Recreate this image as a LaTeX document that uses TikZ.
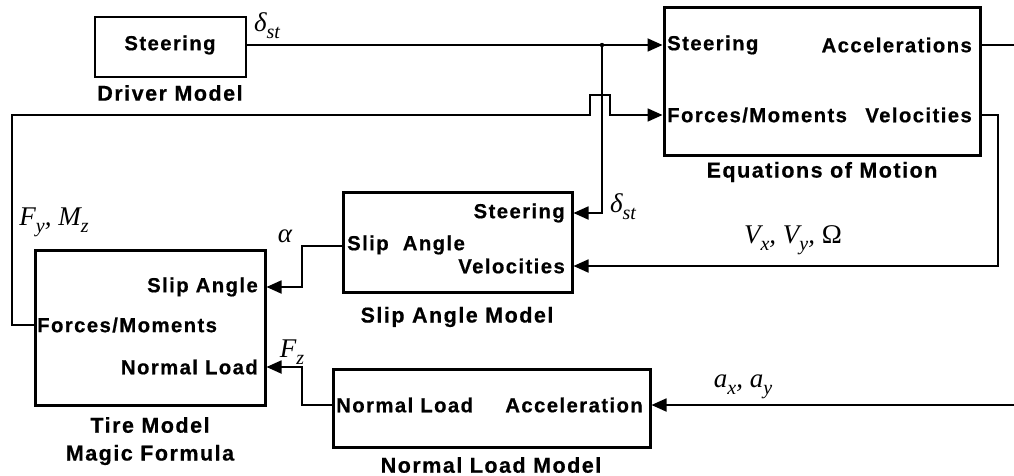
\documentclass[tikz,border=0pt]{standalone}
\usepackage{fontspec}
\usetikzlibrary{arrows.meta}
\newfontfamily\boxfont[LetterSpace=7, FakeBold=0.6]{Liberation Sans Bold}
\newfontfamily\mfont{Liberation Serif}
\newcommand\sbs[1]{\raisebox{-0.25em}{\fontsize{20}{20}\selectfont #1}}
\tikzset{
  blk/.style={draw, line width=3pt, inner sep=0pt},
  thinblk/.style={draw, line width=2pt, inner sep=0pt},
  port/.style={inner sep=0pt, font=\boxfont\fontsize{20.3}{21}\selectfont},
  ttl/.style={inner sep=0pt, font=\boxfont\fontsize{21.5}{22}\selectfont},
  sig/.style={inner sep=0pt, font=\mfont\itshape\fontsize{27}{27}\selectfont},
  wire/.style={line width=1.8pt},
  arr/.style={line width=1.8pt, -{Triangle[length=15pt,width=13pt]}},
}
\begin{document}
\begin{tikzpicture}[x=1pt,y=-1pt]
\useasboundingbox (0,0) rectangle (1014,476);
% boxes
\node[thinblk, minimum width=151pt, minimum height=60pt] (drv) at (170.5,47) {};
\node[blk, minimum width=316pt, minimum height=147pt] (eom) at (822,81.5) {};
\node[blk, minimum width=229pt, minimum height=100pt] (slip) at (457.5,242) {};
\node[blk, minimum width=230pt, minimum height=155pt] (tire) at (150,327.5) {};
\node[blk, minimum width=317pt, minimum height=78pt] (nl) at (491.5,408) {};
% port texts
\node[port] (drvS) at (170,45) {Steering};
\node[port, anchor=west] (eomS) at (667,45) {Steering};
\node[port, anchor=east] (eomA) at (972,45) {Accelerations};
\node[port, anchor=west] (eomF) at (667,115) {Forces/Moments};
\node[port, anchor=east] (eomV) at (972,115) {Velocities};
\node[port, anchor=east] (slS) at (565,213) {Steering};
\node[port, anchor=west] (slA) at (347,245) {Slip\ \ Angle};
\node[port, anchor=east] (slV) at (565,266) {Velocities};
\node[port, anchor=east] (trA) at (258,287) {Slip Angle};
\node[port, anchor=west] (trF) at (37,325) {Forces/Moments};
\node[port, anchor=east] (trN) at (258,367) {Normal Load};
\node[port, anchor=west] (nlN) at (336,405) {Normal Load};
\node[port, anchor=east] (nlA) at (643,405) {Acceleration};
% titles
\node[ttl] (drvT) at (170,93) {Driver Model};
\node[ttl] (eomT) at (822,172) {Equations of Motion};
\node[ttl] (slT) at (457,317) {Slip Angle Model};
\node[ttl] (trT1) at (150,425) {Tire Model};
\node[ttl] (trT2) at (150,455) {Magic Formula};
\node[ttl] (nlT) at (491,465) {Normal Load Model};
% signal labels
\node[sig] (dst1) at (267,26) {δ\sbs{st}};
\node[sig] (dst2) at (623,207) {δ\sbs{st}};
\node[sig] (fymz) at (54,222) {F\sbs{y}, M\sbs{z}};
\node[sig] (alp) at (285,236) {α};
\node[sig] (vel) at (793,240) {V\sbs{x}, V\sbs{y}, {\upshape Ω}};
\node[sig] (fz) at (292,352) {F\sbs{z}};
\node[sig] (axy) at (743,387) {a\sbs{x}, a\sbs{y}};
% coordinates
\coordinate (br) at (602,45);
\coordinate (brD) at (602,213);
\coordinate (fl1) at (12,325);
\coordinate (fl2) at (12,115);
\coordinate (h1) at (590,115);
\coordinate (h2) at (590,95);
\coordinate (h3) at (610,95);
\coordinate (h4) at (610,115);
\coordinate (vr1) at (998,115);
\coordinate (vr2) at (998,266);
\coordinate (accR) at (1014,45);
\coordinate (axR) at (1014,405);
\coordinate (al1) at (302,246);
\coordinate (al2) at (302,287);
\coordinate (fz1) at (302,405);
\coordinate (fz2) at (302,367);
% connectors
\draw[arr] (drv.east |- drvS) -- (eom.west |- eomS);
\fill (br) circle (2.2pt);
\draw[arr] (br) -- (brD) -- (slip.east |- slS);
\draw[arr] (tire.west |- trF) -- (fl1) -- (fl2) -- (h1) -- (h2) -- (h3) -- (h4) -- (eom.west |- eomF);
\draw[arr] (eom.east |- eomV) -- (vr1) -- (vr2) -- (slip.east |- slV);
\draw[wire] (eom.east |- eomA) -- (accR);
\draw[arr] (axR) -- (nl.east |- nlA);
\draw[arr] (slip.west |- al1) -- (al1) -- (al2) -- (tire.east |- trA);
\draw[arr] (nl.west |- nlN) -- (fz1) -- (fz2) -- (tire.east |- trN);
\end{tikzpicture}
\end{document}
